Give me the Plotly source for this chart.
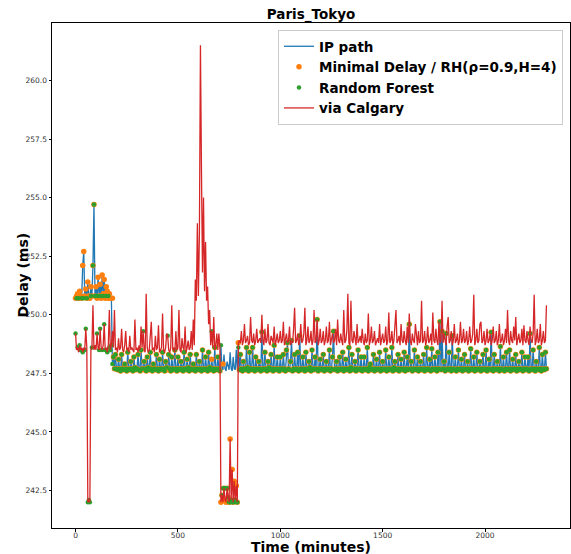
import plotly.graph_objects as go

# time axis (minutes), one sample every 5 minutes, 0 .. 2300
time_min = list(range(0, 2305, 5))

ip_path = [
    250.7, 250.8, 250.9, 250.7, 251.0, 250.8, 250.7, 252.1, 252.7, 250.8, 251.1, 250.7, 251.4, 250.8, 250.7, 251.2, 250.8, 252.1, 254.7, 250.8,
    251.2, 250.7, 251.6, 250.8, 251.3, 250.7, 251.7, 250.9, 251.5, 250.7, 251.2, 251.0, 250.7, 250.9, 250.7, 250.7, 247.9, 248.2, 247.7, 248.3,
    247.7, 247.65, 248.1, 247.7, 247.6, 248.3, 247.7, 247.65, 247.9, 247.7, 247.6, 248.4, 247.7, 247.65, 248.0, 247.7, 247.6, 248.2, 247.75, 247.65,
    247.7, 248.3, 247.65, 247.6, 248.5, 247.7, 247.65, 248.0, 247.7, 247.6, 248.2, 247.75, 247.65, 248.4, 247.7, 247.6, 247.9, 247.7, 247.65, 248.3,
    247.7, 247.6, 248.1, 247.7, 247.65, 248.4, 247.7, 247.6, 248.0, 247.75, 247.65, 248.3, 247.7, 247.6, 248.2, 247.7, 247.65, 248.5, 247.7, 247.6,
    248.2, 247.7, 247.65, 248.0, 247.7, 247.6, 248.4, 247.7, 247.65, 248.1, 247.75, 247.6, 248.3, 247.7, 247.65, 247.9, 247.7, 247.6, 248.3, 247.7,
    247.65, 248.0, 247.7, 247.6, 248.5, 247.7, 247.65, 248.2, 247.7, 247.6, 248.4, 247.75, 247.65, 248.1, 247.7, 247.6, 248.6, 247.7, 247.65, 248.2,
    247.7, 247.6, 248.7, 247.7, 247.65, 248.3, 247.7, 247.6, 248.0, 247.75, 247.65, 248.4, 247.7, 247.6, 248.2, 247.7, 247.65, 248.5, 247.7, 248.6,
    247.65, 248.3, 247.7, 247.6, 248.0, 247.7, 247.65, 248.6, 247.75, 247.6, 248.4, 247.7, 247.65, 248.6, 247.7, 247.6, 248.2, 247.7, 247.65, 248.0,
    247.7, 247.6, 249.26, 247.7, 247.65, 248.4, 247.7, 247.6, 248.0, 247.75, 247.65, 248.3, 247.7, 247.6, 248.7, 247.7, 247.65, 248.2, 247.7, 247.6,
    248.2, 247.7, 247.65, 248.3, 247.7, 247.6, 248.5, 248.8, 247.7, 247.65, 248.0, 248.9, 247.6, 247.7, 248.3, 247.65, 247.7, 248.4, 247.6, 249.1,
    247.7, 247.65, 248.2, 247.7, 247.6, 248.4, 247.7, 247.65, 248.0, 247.75, 247.6, 248.5, 247.7, 247.65, 248.2, 247.7, 249.8, 247.6, 247.7, 248.1,
    247.65, 247.7, 248.3, 247.6, 247.7, 248.0, 247.65, 247.7, 248.5, 247.6, 247.7, 248.2, 249.3, 247.65, 247.7, 248.0, 247.6, 247.7, 248.2, 247.65,
    247.7, 248.4, 247.6, 247.7, 248.1, 247.65, 247.7, 248.6, 247.6, 247.75, 248.3, 247.65, 247.7, 248.0, 247.6, 247.7, 248.5, 247.65, 247.7, 248.2,
    247.6, 247.7, 248.2, 247.65, 247.7, 248.6, 247.6, 247.75, 247.9, 247.65, 247.7, 248.3, 247.6, 247.7, 248.1, 247.65, 247.7, 248.4, 247.6, 247.7,
    248.0, 247.65, 247.7, 248.5, 247.6, 247.7, 248.2, 247.65, 247.7, 248.6, 247.6, 247.75, 248.0, 247.65, 247.7, 248.3, 247.6, 247.7, 248.1, 247.65,
    247.7, 248.4, 247.6, 247.7, 248.2, 247.65, 249.6, 247.7, 248.0, 247.6, 247.7, 248.5, 247.65, 247.7, 248.2, 247.6, 247.7, 248.0, 247.65, 247.7,
    248.3, 247.6, 247.7, 248.6, 247.65, 247.7, 248.1, 247.6, 248.55, 247.7, 247.65, 248.2, 247.7, 247.6, 248.4, 247.7, 249.7, 247.65, 249.3, 247.7,
    248.0, 247.6, 249.2, 247.7, 247.65, 248.4, 247.7, 247.6, 249.1, 247.7, 247.65, 248.2, 247.6, 247.7, 248.5, 247.65, 247.7, 248.1, 247.6, 247.7,
    248.3, 247.65, 247.7, 248.0, 247.6, 247.7, 248.55, 247.65, 247.7, 248.2, 247.6, 247.7, 248.4, 247.65, 247.7, 248.0, 247.6, 247.7, 248.3, 247.65,
    247.7, 248.5, 247.6, 247.7, 248.1, 247.65, 249.25, 247.7, 247.6, 248.3, 247.7, 247.65, 248.0, 247.7, 247.6, 248.65, 247.7, 247.65, 248.2, 247.6,
    247.7, 248.4, 247.65, 247.7, 248.5, 247.6, 247.7, 248.1, 247.65, 247.7, 248.3, 247.6, 247.7, 248.0, 247.65, 247.7, 248.4, 247.6, 247.7, 248.2,
    247.65, 247.7, 248.2, 247.6, 249.2, 247.7, 247.65, 248.5, 247.7, 247.6, 248.0, 247.7, 247.65, 248.6, 247.7, 247.6, 248.3, 247.7, 247.65, 248.4,
    247.7,
]

minimal_delay_rh = [
    250.7, 250.8, 250.9, 250.7, 251.0, 250.8, 250.7, 252.1, 252.7, 250.8, 251.1, 250.7, 251.4, 250.8, 250.7, 251.2, 250.8, 252.1, 254.7, 250.8,
    251.2, 250.7, 251.6, 250.8, 251.3, 250.7, 251.7, 250.9, 251.5, 250.7, 251.2, 251.0, 250.7, 250.9, 250.7, 250.7, 250.7, 248.2, 247.7, 248.3,
    247.7, 247.65, 248.1, 247.7, 247.6, 248.3, 247.7, 247.65, 247.9, 247.7, 247.6, 248.4, 247.7, 247.65, 248.0, 247.7, 247.6, 248.2, 247.75, 247.65,
    247.7, 248.3, 247.65, 247.6, 248.5, 247.7, 247.65, 248.0, 247.7, 247.6, 248.2, 247.75, 247.65, 248.4, 247.7, 247.6, 247.9, 247.7, 247.65, 248.3,
    247.7, 247.6, 248.1, 247.7, 247.65, 248.4, 247.7, 247.6, 248.0, 247.75, 247.65, 248.3, 247.7, 247.6, 248.2, 247.7, 247.65, 248.5, 247.7, 247.6,
    248.2, 247.7, 247.65, 248.0, 247.7, 247.6, 248.4, 247.7, 247.65, 248.1, 247.75, 247.6, 248.3, 247.7, 247.65, 247.9, 247.7, 247.6, 248.3, 247.7,
    247.65, 248.0, 247.7, 247.6, 248.5, 247.7, 247.65, 248.2, 247.7, 247.6, 248.4, 247.75, 247.65, 248.1, 247.7, 247.6, 248.6, 247.7, 247.65, 248.2,
    247.7, 247.6, 242.0, 242.3, 247.9, 242.6, 242.1, 242.0, 242.6, 242.2, 242.0, 244.7, 242.1, 243.4, 242.0, 242.9, 242.1, 242.7, 242.0, 248.8,
    247.65, 248.3, 247.7, 247.6, 248.0, 247.7, 247.65, 248.6, 247.75, 247.6, 248.4, 247.7, 247.65, 248.6, 247.7, 247.6, 248.2, 247.7, 247.65, 248.0,
    247.7, 247.6, 249.26, 247.7, 247.65, 248.4, 247.7, 247.6, 248.0, 247.75, 247.65, 248.3, 247.7, 247.6, 248.7, 247.7, 247.65, 248.2, 247.7, 247.6,
    248.2, 247.7, 247.65, 248.3, 247.7, 247.6, 248.5, 248.8, 247.7, 247.65, 248.0, 248.9, 247.6, 247.7, 248.3, 247.65, 247.7, 248.4, 247.6, 249.1,
    247.7, 247.65, 248.2, 247.7, 247.6, 248.4, 247.7, 247.65, 248.0, 247.75, 247.6, 248.5, 247.7, 247.65, 248.2, 247.7, 249.8, 247.6, 247.7, 248.1,
    247.65, 247.7, 248.3, 247.6, 247.7, 248.0, 247.65, 247.7, 248.5, 247.6, 247.7, 248.2, 249.3, 247.65, 247.7, 248.0, 247.6, 247.7, 248.2, 247.65,
    247.7, 248.4, 247.6, 247.7, 248.1, 247.65, 247.7, 248.6, 247.6, 247.75, 248.3, 247.65, 247.7, 248.0, 247.6, 247.7, 248.5, 247.65, 247.7, 248.2,
    247.6, 247.7, 248.2, 247.65, 247.7, 248.6, 247.6, 247.75, 247.9, 247.65, 247.7, 248.3, 247.6, 247.7, 248.1, 247.65, 247.7, 248.4, 247.6, 247.7,
    248.0, 247.65, 247.7, 248.5, 247.6, 247.7, 248.2, 247.65, 247.7, 248.6, 247.6, 247.75, 248.0, 247.65, 247.7, 248.3, 247.6, 247.7, 248.1, 247.65,
    247.7, 248.4, 247.6, 247.7, 248.2, 247.65, 249.6, 247.7, 248.0, 247.6, 247.7, 248.5, 247.65, 247.7, 248.2, 247.6, 247.7, 248.0, 247.65, 247.7,
    248.3, 247.6, 247.7, 248.6, 247.65, 247.7, 248.1, 247.6, 248.55, 247.7, 247.65, 248.2, 247.7, 247.6, 248.4, 247.7, 249.7, 247.65, 249.3, 247.7,
    248.0, 247.6, 249.2, 247.7, 247.65, 248.4, 247.7, 247.6, 249.1, 247.7, 247.65, 248.2, 247.6, 247.7, 248.5, 247.65, 247.7, 248.1, 247.6, 247.7,
    248.3, 247.65, 247.7, 248.0, 247.6, 247.7, 248.55, 247.65, 247.7, 248.2, 247.6, 247.7, 248.4, 247.65, 247.7, 248.0, 247.6, 247.7, 248.3, 247.65,
    247.7, 248.5, 247.6, 247.7, 248.1, 247.65, 249.25, 247.7, 247.6, 248.3, 247.7, 247.65, 248.0, 247.7, 247.6, 248.65, 247.7, 247.65, 248.2, 247.6,
    247.7, 248.4, 247.65, 247.7, 248.5, 247.6, 247.7, 248.1, 247.65, 247.7, 248.3, 247.6, 247.7, 248.0, 247.65, 247.7, 248.4, 247.6, 247.7, 248.2,
    247.65, 247.7, 248.2, 247.6, 249.2, 247.7, 247.65, 248.5, 247.7, 247.6, 248.0, 247.7, 247.65, 248.6, 247.7, 247.6, 248.3, 247.7, 247.65, 248.4,
    247.7,
]

random_forest = [
    249.2, 250.7, 248.6, 250.7, 248.7, 248.5, 250.7, 248.4, 250.7, 248.5, 249.4, 250.7, 242.0, 242.1, 242.0, 250.8, 248.6, 252.1, 254.7, 250.8,
    250.8, 249.2, 250.8, 248.5, 249.4, 250.8, 248.5, 250.8, 249.6, 248.5, 250.8, 248.4, 250.8, 248.6, 248.5, 248.7, 247.9, 248.2, 247.7, 248.3,
    247.7, 247.65, 248.1, 247.7, 247.6, 248.3, 247.7, 247.65, 247.9, 247.7, 247.6, 248.4, 247.7, 247.65, 248.0, 247.7, 247.6, 248.2, 247.75, 247.65,
    247.7, 248.3, 247.65, 247.6, 248.5, 247.7, 249.3, 248.0, 247.7, 247.6, 248.2, 247.75, 247.65, 248.4, 247.7, 247.6, 247.9, 247.7, 247.65, 248.3,
    247.7, 247.6, 248.1, 247.7, 247.65, 248.4, 247.7, 247.6, 248.0, 247.75, 249.1, 248.3, 247.7, 247.6, 248.2, 247.7, 247.65, 248.5, 247.7, 247.6,
    248.2, 247.7, 247.65, 248.0, 247.7, 247.6, 248.4, 247.7, 247.65, 248.1, 247.75, 247.6, 248.3, 247.7, 247.65, 247.9, 247.7, 247.6, 248.3, 247.7,
    247.65, 248.0, 247.7, 247.6, 248.5, 247.7, 247.65, 248.2, 247.7, 247.6, 248.4, 247.75, 247.65, 249.3, 247.7, 247.6, 248.6, 247.7, 247.65, 248.2,
    247.7, 247.6, 248.7, 242.3, 242.6, 242.6, 242.6, 242.6, 242.6, 242.2, 242.0, 242.0, 242.1, 242.0, 242.0, 242.1, 242.1, 242.0, 242.0, 248.6,
    247.65, 248.3, 247.7, 247.6, 248.0, 247.7, 247.65, 248.6, 247.75, 247.6, 248.4, 247.7, 247.65, 248.6, 247.7, 247.6, 248.2, 247.7, 247.65, 248.0,
    247.7, 247.6, 249.26, 247.7, 247.65, 248.4, 247.7, 247.6, 248.0, 247.75, 247.65, 248.3, 247.7, 247.6, 248.7, 247.7, 247.65, 248.2, 247.7, 247.6,
    248.2, 247.7, 247.65, 248.3, 247.7, 247.6, 248.5, 248.8, 247.7, 247.65, 248.0, 248.9, 247.6, 247.7, 248.3, 247.65, 247.7, 248.4, 247.6, 249.1,
    247.7, 247.65, 248.2, 247.7, 247.6, 248.4, 247.7, 247.65, 248.0, 247.75, 247.6, 248.5, 247.7, 247.65, 248.2, 247.7, 249.8, 247.6, 247.7, 248.1,
    247.65, 247.7, 248.3, 247.6, 247.7, 248.0, 247.65, 247.7, 248.5, 247.6, 247.7, 248.2, 249.3, 247.65, 247.7, 248.0, 247.6, 247.7, 248.2, 247.65,
    247.7, 248.4, 247.6, 247.7, 248.1, 247.65, 247.7, 248.6, 247.6, 247.75, 248.3, 247.65, 247.7, 248.0, 247.6, 247.7, 248.5, 247.65, 247.7, 248.2,
    247.6, 247.7, 248.2, 247.65, 247.7, 248.6, 247.6, 247.75, 247.9, 247.65, 247.7, 248.3, 247.6, 247.7, 248.1, 247.65, 247.7, 248.4, 247.6, 247.7,
    248.0, 247.65, 247.7, 248.5, 247.6, 247.7, 248.2, 247.65, 247.7, 248.6, 247.6, 247.75, 248.0, 247.65, 247.7, 248.3, 247.6, 247.7, 248.1, 247.65,
    247.7, 248.4, 247.6, 247.7, 248.2, 247.65, 249.6, 247.7, 248.0, 247.6, 247.7, 248.5, 247.65, 247.7, 248.2, 247.6, 247.7, 248.0, 247.65, 247.7,
    248.3, 247.6, 247.7, 248.6, 247.65, 247.7, 248.1, 247.6, 248.55, 247.7, 247.65, 248.2, 247.7, 247.6, 248.4, 247.7, 249.7, 247.65, 249.3, 247.7,
    248.0, 247.6, 249.2, 247.7, 247.65, 248.4, 247.7, 247.6, 249.1, 247.7, 247.65, 248.2, 247.6, 247.7, 248.5, 247.65, 247.7, 248.1, 247.6, 247.7,
    248.3, 247.65, 247.7, 248.0, 247.6, 247.7, 248.55, 247.65, 247.7, 248.2, 247.6, 247.7, 248.4, 247.65, 247.7, 248.0, 247.6, 247.7, 248.3, 247.65,
    247.7, 248.5, 247.6, 247.7, 248.1, 247.65, 249.25, 247.7, 247.6, 248.3, 247.7, 247.65, 248.0, 247.7, 247.6, 248.65, 247.7, 247.65, 248.2, 247.6,
    247.7, 248.4, 247.65, 247.7, 248.5, 247.6, 247.7, 248.1, 247.65, 247.7, 248.3, 247.6, 247.7, 248.0, 247.65, 247.7, 248.4, 247.6, 247.7, 248.2,
    247.65, 247.7, 248.2, 247.6, 249.2, 247.7, 247.65, 248.5, 247.7, 247.6, 248.0, 247.7, 247.65, 248.6, 247.7, 247.6, 248.3, 247.7, 247.65, 248.4,
    247.7,
]

via_calgary = [
    249.2, 248.5, 248.6, 248.4, 248.7, 248.5, 248.6, 248.4, 248.6, 248.5, 249.4, 248.6, 242.0, 242.1, 242.0, 248.5, 248.6, 250.4, 248.5, 248.7,
    248.5, 249.2, 248.6, 248.5, 249.4, 248.6, 248.5, 248.7, 249.6, 248.5, 248.6, 248.4, 248.7, 250.2, 248.5, 248.7, 249.3, 248.6, 250.2, 248.5,
    248.6, 248.4, 249.0, 248.5, 248.6, 249.4, 248.5, 248.4, 248.7, 249.3, 248.5, 248.6, 248.4, 249.1, 248.5, 248.6, 248.5, 248.4, 249.8, 248.5,
    248.6, 248.4, 248.7, 248.5, 249.5, 248.6, 249.3, 248.5, 248.4, 250.9, 248.6, 248.4, 248.5, 249.0, 249.7, 248.5, 248.6, 248.4, 249.1, 248.5,
    248.6, 249.55, 248.4, 248.5, 248.6, 250.05, 248.5, 248.4, 248.6, 249.2, 249.1, 248.5, 248.4, 248.6, 250.4, 248.5, 248.6, 248.4, 249.3, 248.5,
    248.6, 250.2, 248.5, 248.4, 249.0, 248.6, 248.5, 249.5, 248.4, 248.6, 248.9, 248.5, 248.6, 249.3, 248.5, 249.8, 248.7, 251.5, 250.6, 253.9,
    250.8, 253.5, 261.5, 256.2, 251.8, 255.0, 251.0, 253.1, 250.6, 251.2, 249.6, 250.2, 248.7, 249.3, 248.6, 249.9, 248.5, 248.7, 249.2, 248.5,
    249.2, 248.6, 242.0, 242.3, 242.0, 242.6, 242.1, 242.0, 242.6, 242.2, 242.0, 244.7, 242.1, 243.4, 242.0, 242.9, 242.1, 242.7, 242.0, 248.8,
    248.9, 248.8, 249.3, 248.7, 248.9, 249.6, 248.8, 248.9, 249.1, 248.7, 248.8, 249.9, 248.9, 248.8, 249.2, 248.7, 248.9, 249.4, 248.8, 248.9,
    249.0, 248.8, 250.0, 248.9, 248.7, 249.4, 248.8, 248.9, 249.6, 248.8, 248.7, 249.1, 248.9, 248.8, 249.5, 248.7, 248.9, 249.2, 248.8, 248.9,
    249.3, 248.8, 248.9, 249.7, 248.7, 248.9, 249.2, 248.8, 248.9, 249.5, 248.7, 248.9, 248.8, 249.4, 250.3, 248.8, 248.9, 249.2, 248.7, 248.9,
    249.6, 248.8, 248.9, 249.2, 250.3, 248.7, 248.9, 249.5, 248.8, 248.9, 249.3, 248.7, 248.9, 250.2, 248.8, 248.9, 249.8, 248.7, 248.9, 249.4,
    248.8, 248.9, 249.3, 248.7, 248.9, 249.5, 248.8, 248.9, 249.7, 248.7, 248.9, 249.2, 248.8, 248.9, 249.4, 248.7, 249.8, 248.9, 248.8, 249.2,
    248.9, 248.7, 250.2, 248.8, 248.9, 249.3, 250.9, 248.8, 248.7, 250.6, 248.9, 248.8, 249.3, 248.9, 248.7, 249.6, 248.8, 248.9, 249.1, 248.8,
    249.4, 248.9, 248.7, 249.2, 248.8, 248.9, 250.05, 248.7, 248.9, 249.5, 248.8, 248.9, 249.3, 248.7, 248.9, 249.0, 248.8, 249.6, 248.7, 248.9,
    249.2, 248.8, 248.9, 249.5, 248.7, 248.9, 250.1, 248.8, 248.9, 249.3, 248.7, 248.9, 249.4, 250.2, 248.8, 248.9, 249.1, 248.7, 249.6, 248.9,
    248.8, 249.3, 248.9, 248.7, 249.5, 248.8, 250.05, 248.9, 248.7, 249.2, 248.9, 248.8, 249.6, 248.9, 248.7, 249.3, 248.8, 248.9, 250.6, 248.8,
    248.9, 249.3, 248.7, 248.9, 249.5, 248.8, 248.9, 249.2, 248.7, 250.1, 248.9, 248.8, 249.4, 248.9, 248.7, 249.7, 248.8, 248.9, 250.6, 248.8,
    249.2, 248.9, 248.7, 249.5, 249.9, 248.8, 248.9, 249.3, 248.7, 248.9, 249.6, 248.8, 248.9, 249.2, 248.7, 248.9, 249.7, 248.8, 248.9, 249.4,
    248.8, 248.9, 249.3, 248.7, 248.9, 249.5, 248.8, 248.9, 249.2, 250.85, 248.7, 248.9, 249.4, 248.8, 248.9, 249.6, 249.7, 248.8, 248.9, 249.3,
    248.7, 248.9, 249.4, 248.8, 248.9, 249.2, 248.7, 248.9, 249.5, 248.8, 248.9, 249.3, 248.7, 248.9, 249.6, 248.8, 248.9, 249.2, 248.7, 248.9,
    249.4, 248.8, 250.2, 248.9, 248.7, 249.3, 248.9, 248.8, 249.5, 248.9, 249.9, 248.7, 248.9, 249.2, 248.8, 248.9, 249.4, 248.7, 249.55, 248.9,
    248.8, 249.3, 248.9, 248.7, 249.5, 248.9, 248.8, 249.2, 250.85, 248.7, 248.9, 249.4, 248.8, 248.9, 249.6, 248.7, 248.9, 249.3, 248.8, 248.9,
    250.4,
]

for series in (ip_path, minimal_delay_rh, random_forest, via_calgary):
    assert len(series) == len(time_min), len(series)

x_ticks = [0, 500, 1000, 1500, 2000]
y_ticks = [242.5, 245.0, 247.5, 250.0, 252.5, 255.0, 257.5, 260.0]

FONT = "DejaVu Sans"

fig = go.Figure()
fig.add_trace(go.Scatter(x=time_min, y=ip_path, mode="lines", name="IP path",
                         line=dict(color="#1f77b4", width=1.3)))
fig.add_trace(go.Scatter(x=time_min, y=minimal_delay_rh, mode="markers",
                         name="Minimal Delay / RH(ρ=0.9,H=4)",
                         marker=dict(color="#ff7f0e", size=5.5, line=dict(width=0))))
fig.add_trace(go.Scatter(x=time_min, y=random_forest, mode="markers",
                         name="Random Forest",
                         marker=dict(color="#2ca02c", size=4.5, line=dict(width=0))))
fig.add_trace(go.Scatter(x=time_min, y=via_calgary, mode="lines", name="via Calgary",
                         line=dict(color="#d62728", width=1.3)))

axis_common = dict(showgrid=False, zeroline=False, showline=True, linecolor="black",
                   linewidth=1, mirror=True, ticks="outside", ticklen=2.5, tickwidth=1,
                   tickcolor="black", tickfont=dict(family=FONT, size=7.5, color="#333333"))

fig.update_layout(
    width=571, height=554,
    margin=dict(l=52, r=1, t=23, b=26),
    paper_bgcolor="white", plot_bgcolor="white",
    title=dict(text="Paris_Tokyo", x=0.5, xref="paper", xanchor="center",
               y=1 - 14 / 554, yref="container", yanchor="middle",
               font=dict(family=FONT, size=13.5, color="black", weight="bold")),
    xaxis=dict(range=[-115, 2415], tickvals=x_ticks, ticklabelstandoff=-3, **axis_common),
    yaxis=dict(range=[240.9, 262.45], tickvals=y_ticks, tickformat=".1f", **axis_common),
    legend=dict(x=(563 - 52) / 518, xanchor="right", y=1 - 7 / 505, yanchor="top",
                bgcolor="rgba(255,255,255,0.85)", bordercolor="#cccccc", borderwidth=1,
                font=dict(family=FONT, size=13.5, color="black", weight="bold"),
                itemwidth=30),
    showlegend=True,
    annotations=[
        dict(text="Time (minutes)", xref="paper", yref="paper", x=0.5, y=-(547 - 528) / 505,
             xanchor="center", yanchor="middle", showarrow=False,
             font=dict(family=FONT, size=14, color="black", weight="bold")),
        dict(text="Delay (ms)", xref="paper", yref="paper", x=-(52 - 22) / 518, y=0.5,
             xanchor="center", yanchor="middle", textangle=-90, showarrow=False,
             font=dict(family=FONT, size=14, color="black", weight="bold")),
    ],
)

fig.write_html("out.html")
